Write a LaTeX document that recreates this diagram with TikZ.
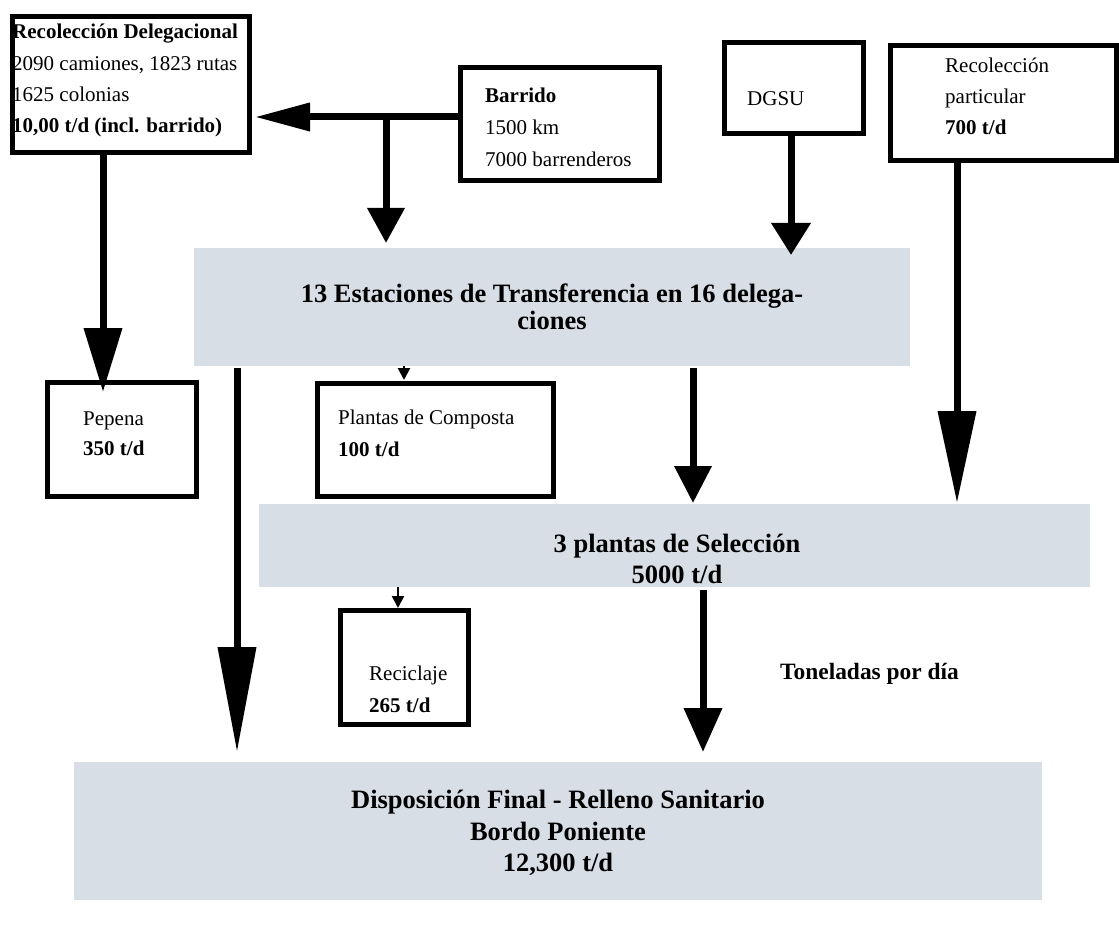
\documentclass[tikz,border=0pt]{standalone}
\usepackage{fontspec}
\setmainfont{Liberation Serif}
\usetikzlibrary{arrows.meta}
\definecolor{boxblue}{RGB}{215,222,230}
\begin{document}
\begin{tikzpicture}[x=1pt,y=-1pt,
  box/.style={draw=black, line width=5pt, inner sep=0pt, outer sep=0pt},
  bluebox/.style={fill=boxblue, draw=none, inner sep=0pt, outer sep=0pt},
  txt/.style={anchor=base west, inner sep=0pt, font=\fontsize{21}{25}\selectfont},
  btxt/.style={anchor=base west, inner sep=0pt, font=\fontsize{21}{25}\selectfont\bfseries},
  bigtxt/.style={anchor=base, inner sep=0pt, font=\fontsize{26.5}{31}\selectfont\bfseries},
  fat/.style={line width=7pt},
  thinarrow/.style={line width=2.5pt, -{Triangle[length=12pt,width=12pt]}},
]
\useasboundingbox (0,0) rectangle (1119,925);

% blue boxes
\node[bluebox, minimum width=716pt, minimum height=118pt] (est) at (552,307) {};
\node[bluebox, minimum width=831pt, minimum height=83pt] (sel) at (674.5,545.5) {};
\node[bluebox, minimum width=968pt, minimum height=138pt] (disp) at (558,831) {};

\node[bigtxt] (est1) at (552,303) {13 Estaciones de Transferencia en 16 delega-};
\node[bigtxt] (est2) at (552,330) {ciones};
\node[bigtxt] (sel1) at (677,552) {3 plantas de Selección};
\node[bigtxt] (sel2) at (677,583) {5000 t/d};
\node[bigtxt] (disp1) at (558,808) {Disposición Final - Relleno Sanitario};
\node[bigtxt] (disp2) at (558,840) {Bordo Poniente};
\node[bigtxt] (disp3) at (558,871) {12,300 t/d};

% texts of bordered boxes
\node[btxt] (d1) at (12,39) {Recolección Delegacional};
\node[txt]  (d2) at (12,71) {2090 camiones, 1823 rutas};
\node[txt]  (d3) at (12,102) {1625 colonias};
\node[btxt] (d4) at (12,133) {10,00 t/d (incl. barrido)};

\node[btxt] (b1) at (485,103) {Barrido};
\node[txt]  (b2) at (485,135) {1500 km};
\node[txt]  (b3) at (485,167) {7000 barrenderos};

\node[txt] (g1) at (747,106) {DGSU};

\node[txt]  (r1) at (945,73) {Recolección};
\node[txt]  (r2) at (945,104) {particular};
\node[btxt] (r3) at (945,135) {700 t/d};

\node[txt]  (p1) at (83,425) {Pepena};
\node[btxt] (p2) at (83,455) {350 t/d};

\node[txt]  (c1) at (338,424) {Plantas de Composta};
\node[btxt] (c2) at (338,456) {100 t/d};

\node[txt]  (k1) at (369,680) {Reciclaje};
\node[btxt] (k2) at (369,712) {265 t/d};

\node[anchor=base west, inner sep=0pt, font=\fontsize{23.4}{28}\selectfont\bfseries] (ton) at (780,679) {Toneladas por día};

% bordered boxes
\node[box, minimum width=237pt, minimum height=136pt] (deleg) at (131,84.5) {};
\node[box, minimum width=199pt, minimum height=113pt] (barrido) at (560,124) {};
\node[box, minimum width=139pt, minimum height=91pt] (dgsu) at (794,88) {};
\node[box, minimum width=226pt, minimum height=115pt] (recpart) at (1003.5,103) {};
\node[box, minimum width=149pt, minimum height=114pt] (pepena) at (122,439.5) {};
\node[box, minimum width=236pt, minimum height=113pt] (composta) at (435.5,440) {};
\node[box, minimum width=128pt, minimum height=114pt] (recic) at (404.5,667.5) {};

% helper coordinates
\coordinate (jn) at (386,117);
\coordinate (xa) at (103,0);
\coordinate (xb) at (791,0);
\coordinate (xc) at (957,0);
\coordinate (xd) at (404,0);
\coordinate (xe) at (693,0);
\coordinate (xf) at (237,0);
\coordinate (xg) at (398,0);
\coordinate (xh) at (703,0);

% connectors
\draw[fat, -{Triangle[length=55pt,width=27pt]}, shorten >=5.5pt] (barrido.west |- jn) -- (deleg.east |- jn);
\draw[fat, -{Triangle[length=35pt,width=36pt]}, shorten >=5pt] (jn) -- (jn |- est.north);
\draw[fat, -{Triangle[length=64pt,width=37pt]}, shorten >=-9.5pt] (deleg.south -| xa) -- (pepena.north -| xa);
\draw[fat, -{Triangle[length=32pt,width=38pt]}, shorten >=-7pt] (dgsu.south -| xb) -- (est.north -| xb);
\draw[fat, -{Triangle[length=92pt,width=37pt]}, shorten >=1pt] (recpart.south -| xc) -- (sel.north -| xc);
\draw[thinarrow, shorten >=3.5pt] (est.south -| xd) -- (composta.north -| xd);
\draw[fat, -{Triangle[length=37pt,width=36pt]}, shorten <=2pt, shorten >=1pt] (est.south -| xe) -- (sel.north -| xe);
\draw[fat, -{Triangle[length=105pt,width=37pt]}, shorten <=2pt, shorten >=10pt] (est.south -| xf) -- (disp.north -| xf);
\draw[thinarrow, shorten >=2.5pt] (sel.south -| xg) -- (recic.north -| xg);
\draw[fat, -{Triangle[length=44pt,width=37pt]}, shorten <=3pt, shorten >=10pt] (sel.south -| xh) -- (disp.north -| xh);
\end{tikzpicture}
\end{document}
